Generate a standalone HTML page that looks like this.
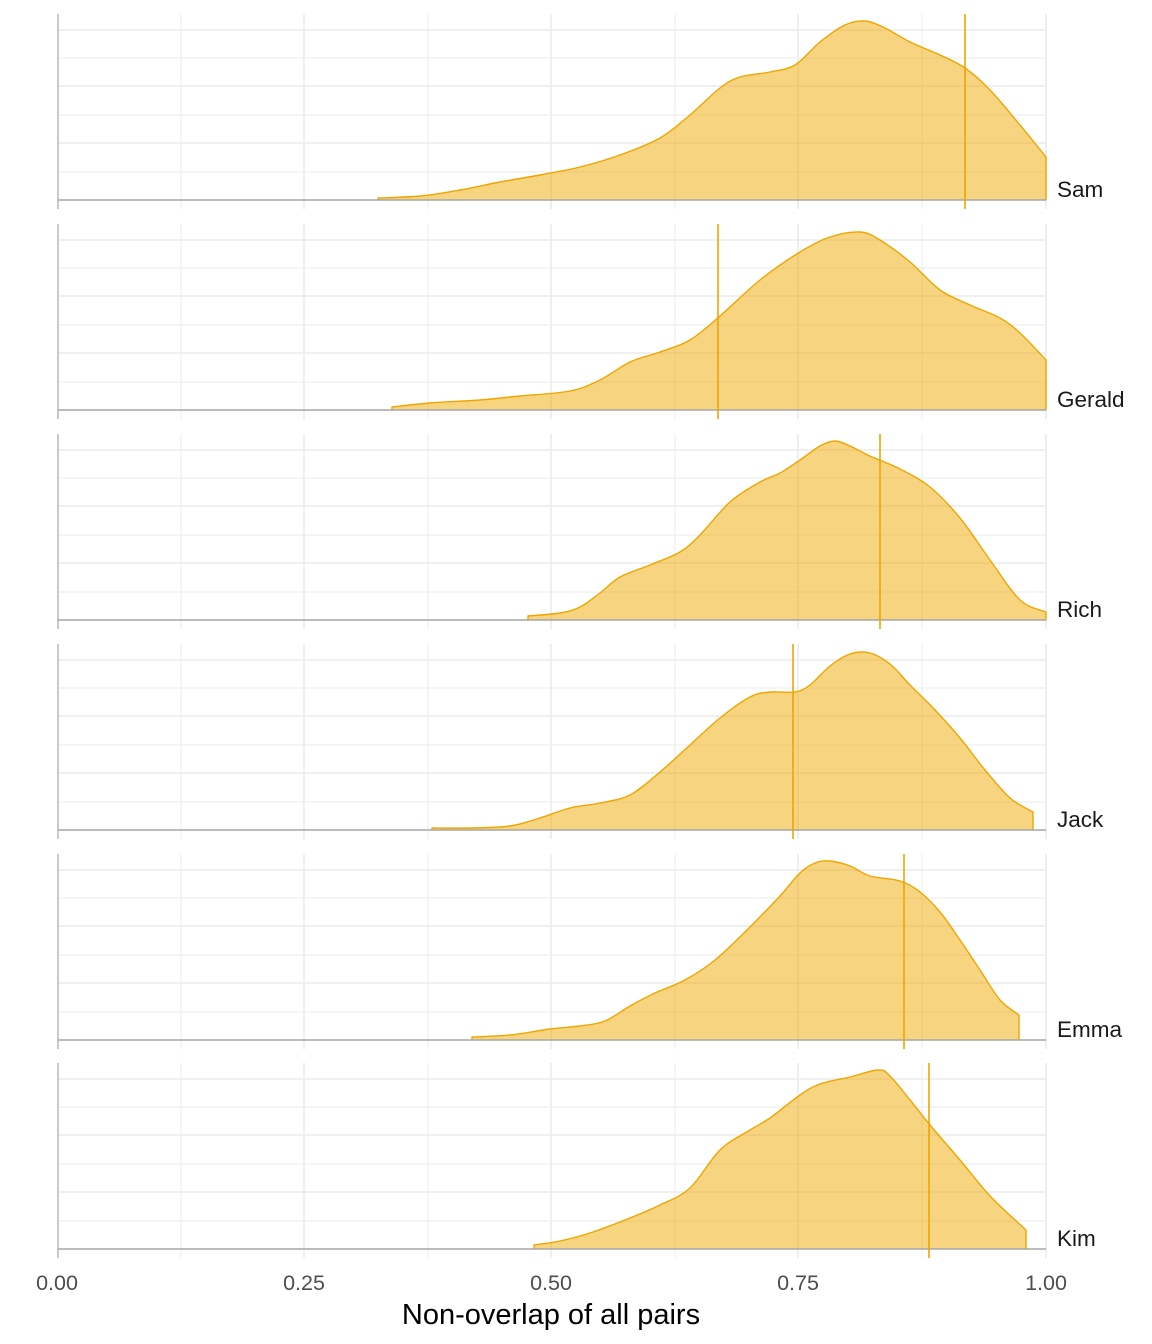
<!DOCTYPE html>
<html><head><meta charset="utf-8"><style>
html,body{margin:0;padding:0;background:#fff;}
svg{display:block;font-family:"Liberation Sans",Arial,sans-serif;}
</style></head><body>
<svg id="s" width="1152" height="1344" xmlns="http://www.w3.org/2000/svg">
<text x="57" y="1290" font-size="21.5" fill="#4d4d4d" text-anchor="middle">0.00</text>
<text x="304" y="1290" font-size="21.5" fill="#4d4d4d" text-anchor="middle">0.25</text>
<text x="551" y="1290" font-size="21.5" fill="#4d4d4d" text-anchor="middle">0.50</text>
<text x="798" y="1290" font-size="21.5" fill="#4d4d4d" text-anchor="middle">0.75</text>
<text x="1046" y="1290" font-size="21.5" fill="#4d4d4d" text-anchor="middle">1.00</text>
<text x="551" y="1324" font-size="29" fill="#000" text-anchor="middle">Non-overlap of all pairs</text>
</svg>
<script>
var s=document.getElementById('s');
var tops=[14,224,434,644,854,1063];
var names=['Sam','Gerald','Rich','Jack','Emma','Kim'];
var vl=[965,718,880,793,904,929];
var curves=[
[[378,198],[420,196],[460,190],[500,182],[540,175],[580,167],[620,155],[660,138],[690,115],[720,88],[740,77],[770,72],[795,65],[820,42],[845,25],[865,21],[885,28],[910,42],[940,55],[965,68],[990,90],[1020,125],[1046,157]],
[[392,407],[430,403],[480,400],[520,396],[570,391],[600,380],[630,362],[660,352],[690,340],[720,316],[760,280],[800,252],[830,237],[860,232],[880,240],[910,262],[940,290],[970,305],[1000,318],[1020,333],[1046,360]],
[[528,616],[560,613],[580,607],[600,593],[620,577],[650,565],[680,552],[700,535],[730,502],[760,482],[780,473],[800,460],[820,446],[835,441],[850,446],[870,456],[900,469],[930,487],[960,518],[990,560],[1020,600],[1046,612]],
[[432,828],[470,828],[510,826],[540,818],[570,808],[600,803],[630,795],[660,772],[690,745],[720,718],[750,697],[770,692],[795,692],[810,685],[830,666],[850,654],[870,653],[890,664],[910,685],[935,710],[960,738],[985,770],[1010,798],[1033,812]],
[[472,1037],[510,1035],[550,1029],[580,1026],[605,1021],[630,1006],[655,993],[685,980],[715,960],[750,927],[780,896],[800,873],[815,863],[830,861],[850,866],[870,876],[900,881],[920,892],[940,912],[960,940],[980,970],[1000,1000],[1019,1015]],
[[534,1245],[560,1241],[590,1233],[630,1218],[660,1205],[690,1188],[720,1150],[750,1130],[770,1118],[800,1095],[820,1084],[850,1077],[878,1070],[890,1076],[910,1100],[930,1125],[960,1160],[990,1196],[1026,1230]]
];
function smooth(c){
 var d='';
 for(var i=0;i<c.length-1;i++){
  var p0=c[Math.max(0,i-1)],p1=c[i],p2=c[i+1],p3=c[Math.min(c.length-1,i+2)];
  var c1x=p1[0]+(p2[0]-p0[0])/6,c1y=p1[1]+(p2[1]-p0[1])/6;
  var c2x=p2[0]-(p3[0]-p1[0])/6,c2y=p2[1]-(p3[1]-p1[1])/6;
  d+=' C'+c1x.toFixed(1)+','+c1y.toFixed(1)+' '+c2x.toFixed(1)+','+c2y.toFixed(1)+' '+p2[0]+','+p2[1];
 }
 return d;
}
var h='';
for(var i=0;i<6;i++){
 var t=tops[i],b=t+186;
 [181,428,675,922].forEach(function(x){h+='<line x1="'+x+'" x2="'+x+'" y1="'+t+'" y2="'+(t+195)+'" stroke="#ebebeb" stroke-width="1"/>';});
 [304,551,798,1046].forEach(function(x){h+='<line x1="'+x+'" x2="'+x+'" y1="'+t+'" y2="'+(t+195)+'" stroke="#ebebeb" stroke-width="1.6"/>';});
 [44,101,158].forEach(function(d){h+='<line x1="58" x2="1046" y1="'+(t+d)+'" y2="'+(t+d)+'" stroke="#ebebeb" stroke-width="1"/>';});
 [16,72,129].forEach(function(d){h+='<line x1="58" x2="1046" y1="'+(t+d)+'" y2="'+(t+d)+'" stroke="#ebebeb" stroke-width="1.6"/>';});
 var c=curves[i];
 var sm=smooth(c);
 var last=c[c.length-1];
 h+='<path d="M'+c[0][0]+','+b+' L'+c[0][0]+','+c[0][1]+sm+' L'+last[0]+','+b+' Z" fill="rgba(240,170,0,0.5)" stroke="none"/>';
 h+='<path d="M'+c[0][0]+','+b+' L'+c[0][0]+','+c[0][1]+sm+' L'+last[0]+','+b+'" fill="none" stroke="#f0a500" stroke-width="1.4" stroke-linejoin="round"/>';
 h+='<line x1="58" x2="1046" y1="'+b+'" y2="'+b+'" stroke="#a6a6a6" stroke-width="1.4"/>';
 h+='<line x1="58" x2="58" y1="'+t+'" y2="'+(t+195)+'" stroke="#a6a6a6" stroke-width="1.2"/>';
 h+='<line x1="'+vl[i]+'" x2="'+vl[i]+'" y1="'+t+'" y2="'+(t+195)+'" stroke="#f0a500" stroke-width="1.6"/>';
 h+='<text x="1057" y="'+(b-3)+'" font-size="22.5" fill="#1a1a1a">'+names[i]+'</text>';
}
s.insertAdjacentHTML('afterbegin',h);
</script>
</body></html>
